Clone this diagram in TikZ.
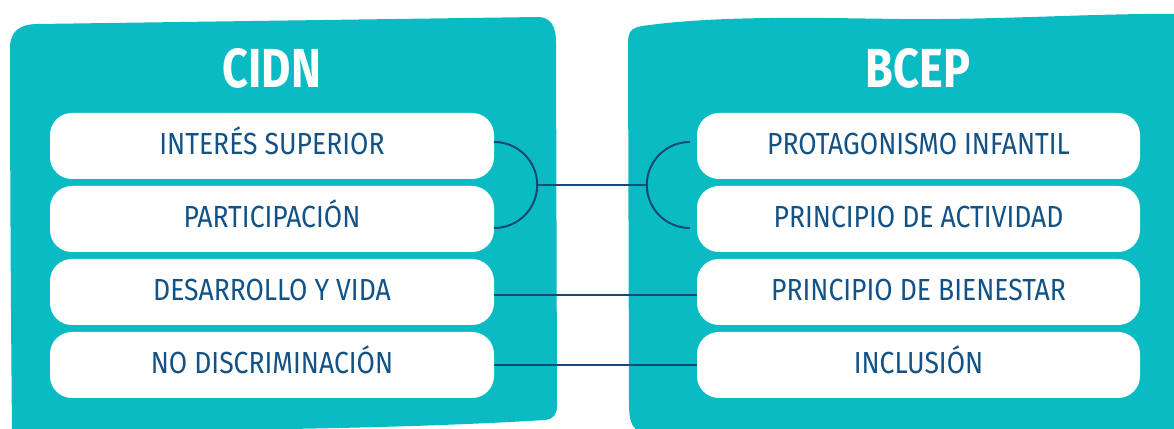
\documentclass[tikz,border=0pt]{standalone}
\usepackage{fontspec}
\setmainfont{Fira Sans}[FakeStretch=0.87]
\newfontfamily\titlefont{Fira Sans}[FakeStretch=0.82]
\definecolor{panelteal}{RGB}{11,187,196}
\definecolor{txtblue}{RGB}{18,82,134}
\definecolor{linkblue}{RGB}{22,72,124}
\tikzset{
  itembox/.style={fill=white, rounded corners=22pt, minimum width=444pt, minimum height=66pt,
    inner sep=0pt, text=txtblue, font=\fontsize{30.5}{36}\selectfont, text height=18pt, text depth=0pt},
  titletext/.style={text=white, font=\titlefont\bfseries\fontsize{55}{60}\selectfont, inner sep=0pt, anchor=base},
  conn/.style={draw=linkblue, line width=2pt}
}
\begin{document}
\begin{tikzpicture}[x=1pt,y=1pt]
\useasboundingbox (0,0) rectangle (1174,428);
% left panel
\fill[panelteal] (10,380) .. controls (10,397) and (20,404) .. (38,404)
  -- (538,411) .. controls (551,411) and (556,401) .. (556,386)
  -- (557,22) .. controls (557,13) and (553,9) .. (545,8)
  .. controls (400,-1) and (200,-3) .. (22,-3)
  -- (12,-3) .. controls (11,100) and (10,250) .. cycle;
% right panel
\fill[panelteal] (628,385) .. controls (628,397) and (632,400) .. (642,402)
  .. controls (720,413) and (820,410) .. (900,409)
  .. controls (1000,408) and (1100,415) .. (1180,414)
  -- (1180,-5) -- (650,-5) .. controls (632,-5) and (629,5) .. (629,25) -- cycle;
% titles
\node[titletext] (tl) at (272,340) {CIDN};
\node[titletext] (tr) at (918,340) {BCEP};
% left items
\node[itembox] (L1) at (272,282) {INTERÉS SUPERIOR};
\node[itembox] (L2) at (272,209) {PARTICIPACIÓN};
\node[itembox] (L3) at (272,136) {DESARROLLO Y VIDA};
\node[itembox] (L4) at (272,63) {NO DISCRIMINACIÓN};
% right items
\node[itembox, minimum width=443pt] (R1) at (918.5,282) {PROTAGONISMO INFANTIL};
\node[itembox, minimum width=443pt] (R2) at (918.5,209) {PRINCIPIO DE ACTIVIDAD};
\node[itembox, minimum width=443pt] (R3) at (918.5,136) {PRINCIPIO DE BIENESTAR};
\node[itembox, minimum width=443pt] (R4) at (918.5,63) {INCLUSIÓN};
% connectors
\draw[conn] ([yshift=4pt]L1.east) arc[start angle=90, delta angle=-180, radius=43pt] coordinate (lend);
\coordinate (lmid) at ([xshift=43pt,yshift=4pt-43pt]L1.east);
\draw[conn] ([xshift=-7pt,yshift=4pt]R1.west) arc[start angle=90, delta angle=180, radius=43pt] coordinate (rend);
\coordinate (rmid) at ([xshift=-50pt,yshift=4pt-43pt]R1.west);
\draw[conn] (lmid) -- (rmid);
\draw[conn] ([yshift=-3pt]L3.east) -- ([yshift=-3pt]R3.west);
\draw[conn] (L4.east) -- (R4.west);
\end{tikzpicture}
\end{document}
